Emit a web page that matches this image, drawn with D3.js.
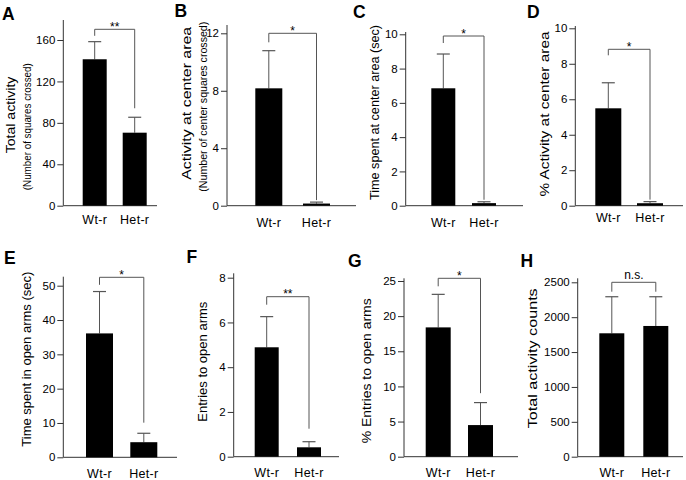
<!DOCTYPE html>
<html>
<head>
<meta charset="utf-8">
<script src="https://cdn.jsdelivr.net/npm/d3@7"></script>
<style>
  html, body { margin: 0; padding: 0; background: #fff; }
  svg { display: block; font-family: "Liberation Sans", Arial, Helvetica, sans-serif; }
</style>
</head>
<body>
<svg id="chart" width="686" height="480"></svg>
<script>
// ---------- data ----------
const categories = ["Wt-r", "Het-r"];
const panelLetters = ["A", "B", "C", "D", "E", "F", "G", "H"];
const yTitles = [
  "Total activity",
  "Activity at center area",
  "Time spent at center area (sec)",
  "% Activity at center area",
  "Time spent in open arms (sec)",
  "Entries to open arms",
  "% Entries to open arms",
  "Total activity counts"
];
const ySubtitles = [
  "(Number of squares crossed)",
  "(Number of center squares crossed)",
  "", "", "", "", "", ""
];
const wtMean  = [141.4, 8.17, 6.85, 5.49, 36.1, 4.89, 18.4, 1769];
const wtSem   = [17.0,  2.62, 2.00, 1.44, 12.2, 1.37, 4.7,  524];
const hetMean = [70.5,  0.15, 0.15, 0.14, 4.4,  0.42, 4.5,  1874];
const hetSem  = [14.9,  0.10, 0.08, 0.09, 2.6,  0.25, 3.2,  419];
const yTicks = [
  [0, 40, 80, 120, 160],
  [0, 4, 8, 12],
  [0, 2, 4, 6, 8, 10],
  [0, 2, 4, 6, 8, 10],
  [0, 10, 20, 30, 40, 50],
  [0, 2, 4, 6, 8],
  [0, 5, 10, 15, 20, 25],
  [0, 500, 1000, 1500, 2000, 2500]
];
const sigLabels = ["**", "*", "*", "*", "*", "**", "*", "n.s."];

// ---------- layout (pixels) ----------
const layout = [
  {ax: 63.3, y0: 205.7, yTopPx: 40,    axisTop: 20,    xEnd: 157, barL: 82.7,  barR: 146.7, bw: 24, lx: 2,     ly: 20,    catY: 224,   tX: 15,    tLen: 76.7, tCy: 115,   sX: 31,    sLen: 127, sCy: 126.7, brY: 29.3,  rGap: 9,    lLen: 6.5},
  {ax: 227,  y0: 205.7, yTopPx: 33.3,  axisTop: 25,    xEnd: 356, barL: 255.3, barR: 330,   bw: 27, lx: 174.5, ly: 17,    catY: 226.7, tX: 191,   tLen: 153,  tCy: 103.3, sX: 206.5, sLen: 170, sCy: 106.7, brY: 33.3,  rGap: 2,    lLen: 9},
  {ax: 405.7,y0: 205.7, yTopPx: 34.3,  axisTop: 32,    xEnd: 523, barL: 431.3, barR: 496,   bw: 24, lx: 353,   ly: 17.5,  catY: 226.7, tX: 379,   tLen: 175,  tCy: 112.5, brY: 36,    rGap: 2,    lLen: 7},
  {ax: 575.3,y0: 205.7, yTopPx: 28.3,  axisTop: 26,    xEnd: 683, barL: 595.3, barR: 663,   bw: 26, lx: 527,   ly: 17.5,  catY: 221.7, tX: 549,   tLen: 165,  tCy: 114,   brY: 49.3,  rGap: 2,    lLen: 6},
  {ax: 63.3, y0: 457.3, yTopPx: 285.7, axisTop: 276.7, xEnd: 177, barL: 86,    barR: 157.3, bw: 27, lx: 4,     ly: 263.5, catY: 478.3, tX: 31,    tLen: 175,  tCy: 359.2, brY: 277.3, rGap: 10.6, lLen: 7.5},
  {ax: 233.7,y0: 456.7, yTopPx: 277.7, axisTop: 273.3, xEnd: 339, barL: 254.7, barR: 321,   bw: 24, lx: 186.5, ly: 263,   catY: 477.3, tX: 207,   tLen: 120,  tCy: 361.7, brY: 296.7, rGap: 13,   lLen: 8},
  {ax: 404,  y0: 456.7, yTopPx: 281,   axisTop: 278.3, xEnd: 518, barL: 425.7, barR: 493,   bw: 25, lx: 348,   ly: 267,   catY: 477.3, tX: 370.5, tLen: 145,  tCy: 370.8, brY: 278.3, rGap: 9.4,  lLen: 8},
  {ax: 577.7,y0: 456.7, yTopPx: 282.3, axisTop: 278.3, xEnd: 683, barL: 599.3, barR: 668.3, bw: 25, lx: 520.5, ly: 267,   catY: 477,   tX: 537,   tLen: 140,  tCy: 358.3, brY: 282.3, rGap: 5,    lLen: 9.4}
];

const svg = d3.select("#chart");
const AXIS = "#333";
const LINE = "#555";

panelLetters.forEach((letter, i) => {
  const L = layout[i];
  const g = svg.append("g");
  const ticks = yTicks[i];
  const y = d3.scaleLinear().domain([0, ticks[ticks.length - 1]]).range([L.y0, L.yTopPx]);
  const span = L.barR - L.barL;
  const step = span - L.bw;
  const x = d3.scaleBand().domain(categories).range([L.barL, L.barR])
    .paddingInner(1 - L.bw / step).paddingOuter(0);

  // panel letter
  g.append("text").attr("x", L.lx).attr("y", L.ly)
    .attr("font-size", 17.5).attr("font-weight", "bold").attr("fill", "#000").text(letter);

  // y axis
  const yAxis = d3.axisLeft(y).tickValues(ticks).tickSize(6).tickPadding(2).tickFormat(d3.format("d"));
  const ga = g.append("g").attr("transform", `translate(${L.ax},0)`).call(yAxis);
  ga.select(".domain").remove();
  ga.selectAll(".tick line").attr("stroke", AXIS);
  ga.selectAll(".tick text").attr("font-size", 11.5).attr("fill", "#000")
    .attr("font-family", "'Liberation Sans', Arial, sans-serif");
  g.append("line").attr("x1", L.ax).attr("x2", L.ax).attr("y1", L.axisTop).attr("y2", L.y0)
    .attr("stroke", AXIS).attr("stroke-width", 1);
  // x axis baseline
  g.append("line").attr("x1", L.ax).attr("x2", L.xEnd).attr("y1", L.y0).attr("y2", L.y0)
    .attr("stroke", AXIS).attr("stroke-width", 1);

  // bars
  const means = [wtMean[i], hetMean[i]];
  const sems = [wtSem[i], hetSem[i]];
  categories.forEach((c, k) => {
    const cx = x(c) + x.bandwidth() / 2;
    const top = y(means[k] + sems[k]);
    // error bar (upper only)
    g.append("line").attr("x1", cx).attr("x2", cx).attr("y1", y(means[k])).attr("y2", top)
      .attr("stroke", LINE).attr("stroke-width", 1);
    g.append("line").attr("x1", cx - 6.5).attr("x2", cx + 6.5).attr("y1", top).attr("y2", top)
      .attr("stroke", LINE).attr("stroke-width", 1.2);
    g.append("rect").attr("x", x(c)).attr("width", x.bandwidth())
      .attr("y", y(means[k])).attr("height", Math.max(1.2, y(0) - y(means[k])))
      .attr("fill", "#000");
    // category label
    g.append("text").attr("x", cx).attr("y", L.catY).attr("text-anchor", "middle")
      .attr("font-size", 12.5).attr("letter-spacing", 0.3).attr("fill", "#000").text(c);
  });

  // significance bracket
  const xl = x(categories[0]) + x.bandwidth() / 2;
  const xr = x(categories[1]) + x.bandwidth() / 2;
  const rBottom = y(means[1] + sems[1]) - L.rGap;
  const lBottom = L.brY + L.lLen;
  g.append("path")
    .attr("d", `M${xl},${lBottom}V${L.brY}H${xr}V${rBottom}`)
    .attr("fill", "none").attr("stroke", LINE).attr("stroke-width", 1);
  const isStar = sigLabels[i].indexOf("*") >= 0;
  g.append("text").attr("x", (xl + xr) / 2).attr("y", L.brY + (isStar ? 1.5 : -3))
    .attr("text-anchor", "middle").attr("font-size", 12).attr("fill", "#000").text(sigLabels[i]);

  // y titles
  g.append("text").attr("transform", `translate(${L.tX},${L.tCy}) rotate(-90)`)
    .attr("text-anchor", "middle").attr("font-size", 13.5).attr("fill", "#000")
    .attr("textLength", L.tLen).attr("lengthAdjust", "spacingAndGlyphs")
    .text(yTitles[i]);
  if (ySubtitles[i]) {
    g.append("text").attr("transform", `translate(${L.sX},${L.sCy}) rotate(-90)`)
      .attr("text-anchor", "middle").attr("font-size", 10.5).attr("fill", "#000")
      .attr("textLength", L.sLen).attr("lengthAdjust", "spacingAndGlyphs")
      .text(ySubtitles[i]);
  }
});
</script>
</body>
</html>
